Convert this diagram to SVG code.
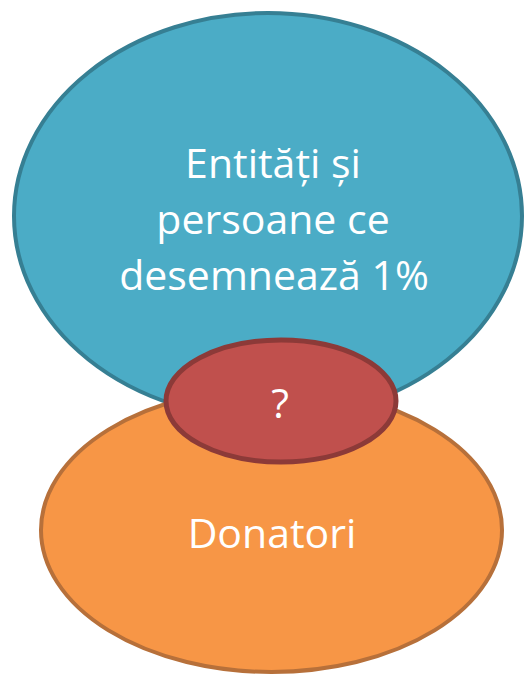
<svg xmlns="http://www.w3.org/2000/svg" width="527" height="675" viewBox="0 0 527 675">
<style>
.lbl{font-family:"Open Sans","Noto Sans","Liberation Sans",sans-serif;fill:#ffffff;text-anchor:middle;font-size:41px}
</style>
<rect width="527" height="675" fill="#ffffff"/>
<g id="blue">
<ellipse cx="268" cy="216" rx="254" ry="203" fill="#4BACC6" stroke="#367F93" stroke-width="4"/>
<text class="lbl" x="273" y="178">Entități și</text>
<text class="lbl" x="273" y="234">persoane ce</text>
<text class="lbl" x="274" y="290">desemnează 1%</text>
</g>
<g id="orange">
<ellipse cx="271.5" cy="530" rx="230.5" ry="142" fill="#F79646" stroke="#B7703A" stroke-width="4"/>
<text class="lbl" x="272" y="548">Donatori</text>
</g>
<g id="red">
<ellipse cx="281" cy="401" rx="115" ry="61" fill="#C0504D" stroke="#8C3A38" stroke-width="5"/>
<text class="lbl" x="280" y="418">?</text>
</g>
<g id="connectors"/>
</svg>
